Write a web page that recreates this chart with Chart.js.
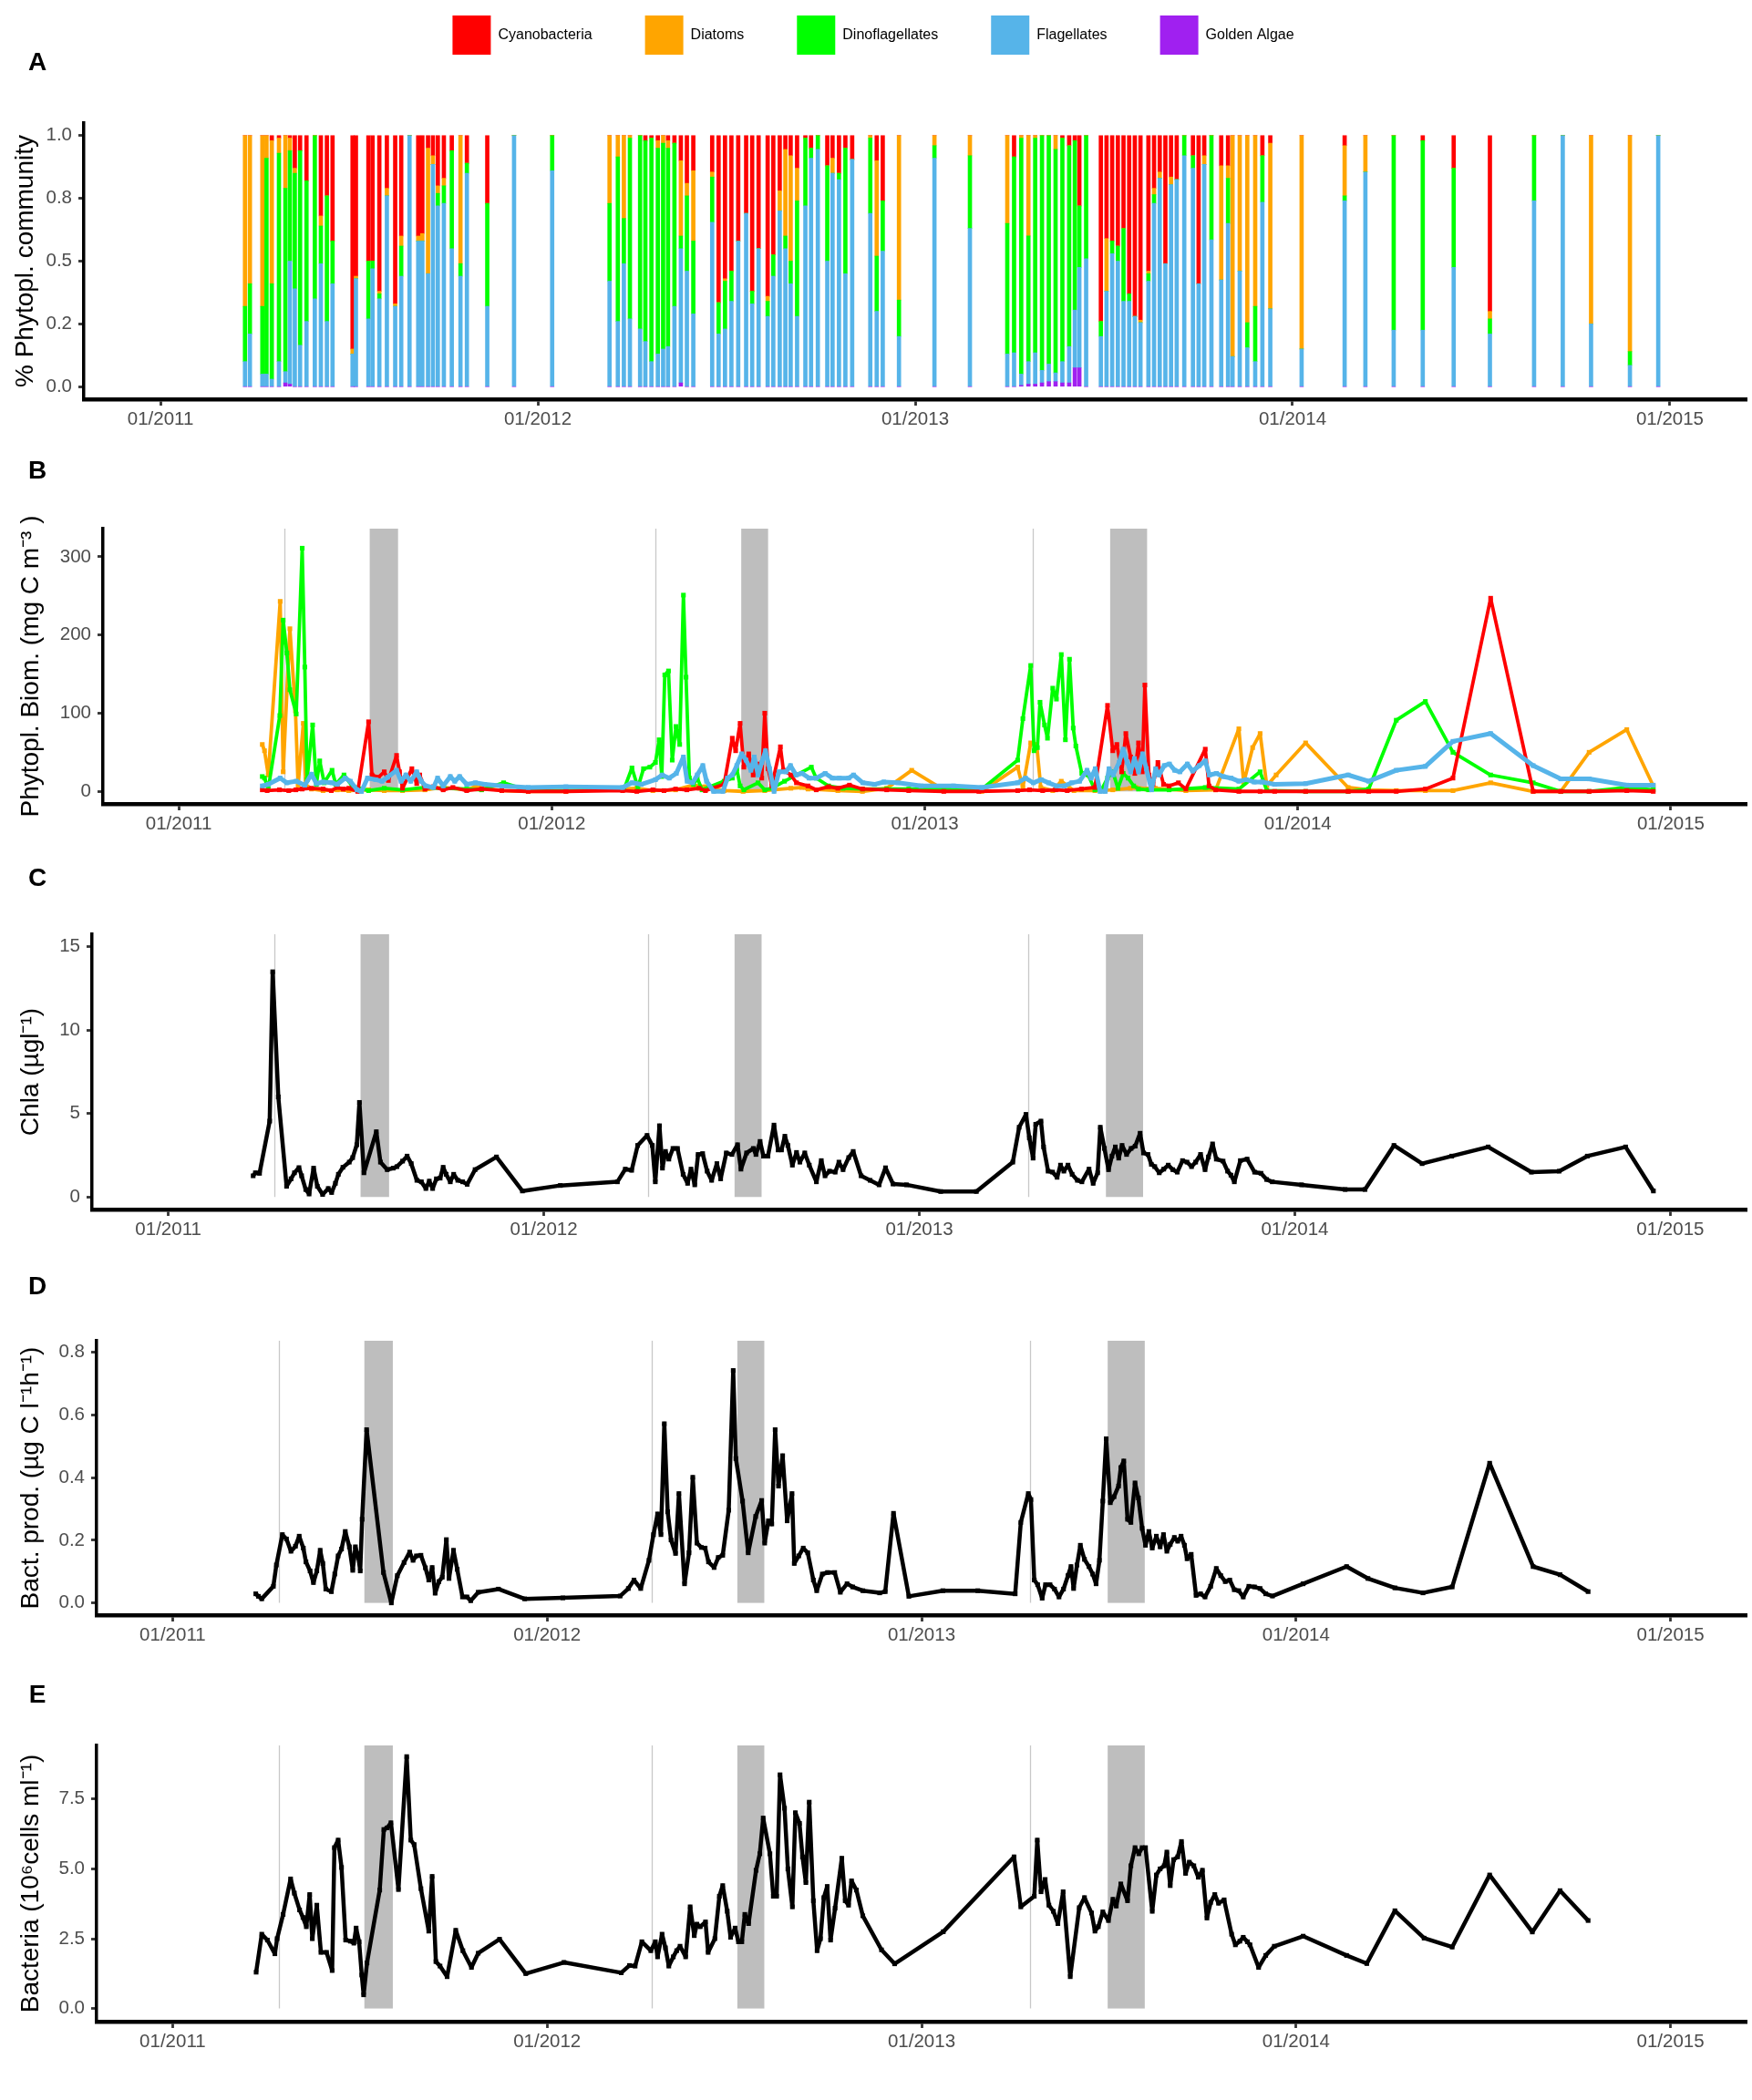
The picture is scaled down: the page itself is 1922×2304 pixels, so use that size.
<!DOCTYPE html>
<html>
<head>
<meta charset="utf-8">
<script src="https://cdn.jsdelivr.net/npm/chart.js@4.4.1/dist/chart.umd.min.js"></script>
<style>
html,body{margin:0;padding:0;background:#fff;}
#wrap{position:relative;width:1922px;height:2304px;background:#fff;overflow:hidden;}
canvas{position:absolute;left:0;}
</style>
</head>
<body>
<div id="wrap">
<canvas id="cA" width="1922" height="490" style="top:0px;width:1922px;height:490px"></canvas>
<canvas id="cB" width="1922" height="445" style="top:490px;width:1922px;height:445px"></canvas>
<canvas id="cC" width="1922" height="445" style="top:935px;width:1922px;height:445px"></canvas>
<canvas id="cD" width="1922" height="445" style="top:1380px;width:1922px;height:445px"></canvas>
<canvas id="cE" width="1922" height="479" style="top:1825px;width:1922px;height:479px"></canvas>
</div>
<script>
// ---------------- shared axis / category data ----------------
const xTickValues = [2011, 2012, 2013, 2014, 2015];
const xTickLabels = ['01/2011', '01/2012', '01/2013', '01/2014', '01/2015'];
const groupNames = ['Cyanobacteria', 'Diatoms', 'Dinoflagellates', 'Flagellates', 'Golden Algae'];
const groupColors = ['#FF0000', '#FFA500', '#00FF00', '#56B4E9', '#A020F0'];
const shadeStarts = [2011.512, 2012.508, 2013.497];
const shadeEnds = [2011.588, 2012.580, 2013.596];
const springLines = [2011.283, 2012.279, 2013.289];

// ---------------- Panel A: relative community composition ----------------
const barDates = [
 2011.224, 2011.237, 2011.270, 2011.281, 2011.295, 2011.314, 2011.331, 2011.343, 2011.356, 2011.370,
 2011.387, 2011.409, 2011.425, 2011.441, 2011.456, 2011.509, 2011.518, 2011.551, 2011.562, 2011.580,
 2011.600, 2011.622, 2011.638, 2011.660, 2011.683, 2011.694, 2011.709, 2011.722, 2011.735, 2011.751,
 2011.772, 2011.795, 2011.812, 2011.866, 2011.937, 2012.038, 2012.190, 2012.212, 2012.228, 2012.244,
 2012.271, 2012.285, 2012.301, 2012.318, 2012.332, 2012.345, 2012.362, 2012.379, 2012.395, 2012.412,
 2012.462, 2012.479, 2012.496, 2012.513, 2012.531, 2012.552, 2012.568, 2012.585, 2012.609, 2012.624,
 2012.641, 2012.656, 2012.670, 2012.687, 2012.709, 2012.724, 2012.742, 2012.767, 2012.781, 2012.798,
 2012.815, 2012.833, 2012.881, 2012.898, 2012.914, 2012.957, 2013.051, 2013.145, 2013.244, 2013.262,
 2013.281, 2013.300, 2013.318, 2013.336, 2013.354, 2013.372, 2013.390, 2013.408, 2013.423, 2013.435,
 2013.453, 2013.492, 2013.507, 2013.522, 2013.537, 2013.552, 2013.567, 2013.582, 2013.597, 2013.618,
 2013.633, 2013.648, 2013.663, 2013.678, 2013.693, 2013.713, 2013.736, 2013.751, 2013.766, 2013.785,
 2013.811, 2013.829, 2013.841, 2013.860, 2013.880, 2013.901, 2013.920, 2013.941, 2014.024, 2014.138,
 2014.193, 2014.268, 2014.345, 2014.427, 2014.523, 2014.640, 2014.716, 2014.791, 2014.894, 2014.969
];
const cyanoFrac = [
 0, 0, 0, 0, .02, .01, 0, .01, .13, .06,
 .18, 0, .32, .24, .42, .85, .56, .50, .50, .62,
 .21, .67, .40, 0, .40, .39, .05, .08, .20, .17,
 .06, 0, .11, .27, 0, 0, 0, 0, 0, 0,
 0, .02, .01, .02, 0, .02, .03, .10, .19, .14,
 .145, .665, .57, .54, .42, .31, .62, .45, .64, .475,
 .22, .055, .08, .13, .01, .05, 0, .12, .09, .15,
 .05, .095, 0, .10, .26, 0, 0, 0, 0, .085,
 0, 0, 0, 0, 0, 0, .01, .04, .02, .28,
 0, .74, .41, .42, .44, .37, .63, .72, .735, .54,
 .21, .145, .51, .165, .175, 0, .08, .59, .08, 0,
 .12, .12, 0, 0, 0, 0, .08, .03, 0, .04,
 0, 0, .02, .13, .70, 0, 0, 0, 0, 0
];
const diatomFrac = [
 .68, .59, .68, .09, .57, .06, .21, .05, .02, 0,
 0, 0, .04, 0, 0, .02, .01, 0, 0, .01,
 .03, .01, .04, 0, .02, .03, .50, .035, .03, .03,
 0, .51, 0, 0, 0, 0, .27, .085, .33, .01,
 0, 0, 0, .03, .03, .03, 0, .30, .05, .28,
 .02, 0, .01, 0, 0, 0, 0, 0, .02, 0,
 .08, .345, .42, .13, 0, 0, 0, 0, .06, 0,
 0, 0, .01, .38, 0, .655, .04, .08, .35, 0,
 .01, .40, .01, 0, 0, .055, 0, 0, 0, 0,
 0, 0, .21, 0, 0, 0, 0, 0, .01, .01,
 .025, .025, 0, .03, 0, 0, 0, 0, .035, 0,
 .455, .05, .88, .54, .745, .68, 0, .66, .85, .20,
 .145, 0, 0, 0, .03, 0, 0, .75, .86, 0
];
const dinoFrac = [
 .22, .20, .27, .86, .38, .83, .73, .44, .46, .775,
 .56, .65, .15, .50, .17, 0, 0, .23, .03, .02,
 0, 0, .12, 0, 0, 0, 0, 0, .05, .07,
 .39, .05, .04, .41, 0, .14, .31, .655, .18, .72,
 .77, .80, .89, .82, .82, .79, .65, .05, .30, .29,
 .18, .125, .19, .12, 0, 0, .05, 0, .06, .085,
 0, .05, .09, .46, .27, .04, .055, .38, 0, .025,
 .50, 0, .30, .22, .20, .145, .05, .29, .52, .78,
 .94, .50, .855, .935, .91, .89, .89, .80, .675, .245,
 .49, .06, 0, .05, .06, .29, .03, 0, 0, .03,
 .035, 0, 0, 0, 0, .08, .05, 0, 0, .415,
 0, .18, 0, 0, .10, .22, .185, 0, 0, .02,
 0, .775, .755, .395, .06, .26, 0, 0, .055, 0
];
const flagFrac = [
 .10, .21, .05, .05, .03, .10, .045, .49, .39, .165,
 .26, .35, .49, .26, .41, .13, .43, .27, .47, .35,
 .76, .32, .44, 1, .58, .58, .45, .885, .72, .73,
 .55, .44, .85, .32, 1, .86, .42, .26, .49, .27,
 .23, .18, .10, .13, .15, .16, .32, .535, .46, .29,
 .655, .21, .23, .34, .58, .69, .33, .55, .28, .44,
 .70, .55, .41, .28, .72, .91, .945, .50, .85, .825,
 .45, .905, .69, .30, .54, .20, .91, .63, .13, .135,
 .045, .09, .125, .05, .07, .035, .085, .145, .23, .40,
 .51, .20, .38, .53, .50, .34, .34, .28, .255, .42,
 .73, .83, .49, .805, .825, .92, .87, .41, .885, .585,
 .425, .65, .12, .46, .155, .10, .735, .31, .15, .74,
 .855, .225, .225, .475, .21, .74, 1, .25, .085, 1
];
const goldenFrac = [
 0, 0, 0, 0, 0, 0, .015, .01, 0, 0,
 0, 0, 0, 0, 0, 0, 0, 0, 0, 0,
 0, 0, 0, 0, 0, 0, 0, 0, 0, 0,
 0, 0, 0, 0, 0, 0, 0, 0, 0, 0,
 0, 0, 0, 0, 0, 0, 0, .015, 0, 0,
 0, 0, 0, 0, 0, 0, 0, 0, 0, 0,
 0, 0, 0, 0, 0, 0, 0, 0, 0, 0,
 0, 0, 0, 0, 0, 0, 0, 0, 0, 0,
 .005, .01, .01, .015, .02, .02, .015, .015, .075, .075,
 0, 0, 0, 0, 0, 0, 0, 0, 0, 0,
 0, 0, 0, 0, 0, 0, 0, 0, 0, 0,
 0, 0, 0, 0, 0, 0, 0, 0, 0, 0,
 0, 0, 0, 0, 0, 0, 0, 0, 0, 0
];
const yTicksA = [0, 0.25, 0.5, 0.75, 1];
const yLabelsA = ['0.0', '0.2', '0.5', '0.8', '1.0'];

// ---------------- Panel B: phytoplankton biomass per group ----------------
const cyanoDates = [
 2011.224, 2011.237, 2011.270, 2011.295, 2011.314, 2011.331, 2011.356, 2011.387, 2011.409, 2011.425,
 2011.441, 2011.456, 2011.480, 2011.509, 2011.518, 2011.535, 2011.551, 2011.562, 2011.584, 2011.592,
 2011.600, 2011.625, 2011.638, 2011.646, 2011.660, 2011.683, 2011.709, 2011.735, 2011.772, 2011.812,
 2011.866, 2011.937, 2012.038, 2012.190, 2012.228, 2012.271, 2012.301, 2012.332, 2012.362, 2012.395,
 2012.412, 2012.462, 2012.484, 2012.493, 2012.505, 2012.515, 2012.528, 2012.540, 2012.553, 2012.563,
 2012.571, 2012.580, 2012.590, 2012.613, 2012.621, 2012.641, 2012.656, 2012.687, 2012.709, 2012.742,
 2012.767, 2012.798, 2012.833, 2012.898, 2012.957, 2013.051, 2013.145, 2013.249, 2013.281, 2013.316,
 2013.351, 2013.382, 2013.420, 2013.456, 2013.490, 2013.504, 2013.515, 2013.528, 2013.539, 2013.552,
 2013.563, 2013.573, 2013.583, 2013.590, 2013.601, 2013.612, 2013.625, 2013.640, 2013.655, 2013.680,
 2013.700, 2013.752, 2013.762, 2013.780, 2013.842, 2013.899, 2013.938, 2014.021, 2014.135, 2014.190,
 2014.264, 2014.342, 2014.416, 2014.517, 2014.631, 2014.705, 2014.781, 2014.882, 2014.953
];
const cyanoVals = [
 2, 1, 2, 1, 2, 3, 4, 3, 1, 5,
 3, 4, 0, 89, 21, 18, 25, 14, 46, 25,
 4, 29, 10, 21, 3, 6, 2, 5, 1, 3,
 1, 0, 0, 1, 0, 2, 1, 3, 2, 4,
 1, 9, 68, 52, 87, 31, 48, 21, 35, 17,
 100, 29, 7, 57, 27, 21, 11, 7, 2, 6,
 4, 8, 3, 2, 1, 0, 0, 1, 2, 1,
 2, 1, 3, 5, 110, 52, 60, 25, 74, 44,
 23, 62, 25, 136, 21, 9, 37, 9, 7, 11,
 3, 54, 7, 2, 0, 0, 0, 0, 0, 0,
 0, 3, 17, 247, 0, 0, 0, 1, 0
];
const diatomDates = [
 2011.224, 2011.230, 2011.240, 2011.272, 2011.280, 2011.298, 2011.313, 2011.320, 2011.334, 2011.340,
 2011.356, 2011.387, 2011.425, 2011.456, 2011.509, 2011.551, 2011.600, 2011.660, 2011.709, 2011.772,
 2011.795, 2011.866, 2011.937, 2012.038, 2012.190, 2012.228, 2012.271, 2012.332, 2012.379, 2012.412,
 2012.462, 2012.513, 2012.571, 2012.641, 2012.670, 2012.687, 2012.767, 2012.833, 2012.898, 2012.965,
 2013.051, 2013.153, 2013.249, 2013.263, 2013.284, 2013.300, 2013.311, 2013.343, 2013.366, 2013.400,
 2013.456, 2013.504, 2013.551, 2013.566, 2013.597, 2013.618, 2013.700, 2013.780, 2013.842, 2013.855,
 2013.879, 2013.899, 2013.917, 2013.942, 2014.021, 2014.135, 2014.190, 2014.264, 2014.342, 2014.416,
 2014.517, 2014.631, 2014.705, 2014.781, 2014.882, 2014.953
];
const diatomVals = [
 60, 52, 21, 243, 25, 208, 103, 7, 87, 9,
 3, 1, 2, 1, 2, 1, 1, 2, 5, 2,
 6, 1, 0, 0, 3, 4, 1, 2, 8, 6,
 1, 0, 1, 4, 5, 3, 1, 0, 4, 27,
 2, 0, 31, 5, 62, 60, 5, 1, 13, 1,
 1, 2, 4, 5, 3, 4, 1, 2, 80, 11,
 56, 74, 7, 21, 62, 5, 2, 1, 1, 1,
 11, 0, 0, 50, 79, 7
];
const dinoDates = [
 2011.224, 2011.230, 2011.240, 2011.271, 2011.280, 2011.290, 2011.298, 2011.315, 2011.331, 2011.338,
 2011.344, 2011.359, 2011.369, 2011.378, 2011.390, 2011.411, 2011.421, 2011.443, 2011.465, 2011.509,
 2011.551, 2011.600, 2011.660, 2011.709, 2011.772, 2011.812, 2011.871, 2011.937, 2012.038, 2012.193,
 2012.215, 2012.231, 2012.246, 2012.263, 2012.278, 2012.288, 2012.295, 2012.303, 2012.313, 2012.323,
 2012.333, 2012.343, 2012.353, 2012.360, 2012.369, 2012.380, 2012.390, 2012.403, 2012.462, 2012.484,
 2012.496, 2012.505, 2012.515, 2012.553, 2012.571, 2012.590, 2012.624, 2012.696, 2012.709, 2012.742,
 2012.781, 2012.833, 2012.898, 2012.957, 2013.077, 2013.153, 2013.249, 2013.263, 2013.284, 2013.293,
 2013.302, 2013.309, 2013.321, 2013.329, 2013.343, 2013.353, 2013.366, 2013.377, 2013.388, 2013.398,
 2013.405, 2013.421, 2013.438, 2013.456, 2013.475, 2013.490, 2013.504, 2013.518, 2013.532, 2013.545,
 2013.560, 2013.573, 2013.600, 2013.655, 2013.752, 2013.842, 2013.899, 2013.917, 2014.021, 2014.135,
 2014.190, 2014.264, 2014.342, 2014.416, 2014.517, 2014.631, 2014.705, 2014.781, 2014.882, 2014.953
];
const dinoVals = [
 19, 17, 3, 97, 219, 177, 130, 99, 311, 159,
 15, 85, 9, 39, 11, 27, 9, 21, 7, 1,
 4, 2, 5, 4, 3, 2, 11, 1, 1, 2,
 30, 5, 29, 31, 37, 66, 19, 149, 154, 40,
 83, 60, 251, 146, 17, 9, 17, 2, 13, 17,
 29, 7, 2, 11, 2, 4, 13, 31, 17, 7,
 4, 3, 3, 3, 3, 3, 40, 93, 161, 52,
 56, 114, 85, 68, 132, 118, 175, 66, 169, 81,
 58, 23, 21, 2, 3, 17, 25, 4, 23, 17,
 7, 3, 2, 2, 5, 3, 25, 1, 0, 0,
 3, 91, 115, 50, 21, 11, 0, 0, 5, 2
];
const flagDates = [
 2011.224, 2011.240, 2011.272, 2011.290, 2011.315, 2011.338, 2011.356, 2011.369, 2011.387, 2011.411,
 2011.425, 2011.446, 2011.460, 2011.478, 2011.490, 2011.506, 2011.528, 2011.545, 2011.560, 2011.584,
 2011.596, 2011.609, 2011.622, 2011.638, 2011.650, 2011.662, 2011.683, 2011.694, 2011.709, 2011.728,
 2011.740, 2011.753, 2011.772, 2011.795, 2011.820, 2011.866, 2011.937, 2012.038, 2012.190, 2012.215,
 2012.240, 2012.278, 2012.296, 2012.315, 2012.334, 2012.353, 2012.363, 2012.378, 2012.390, 2012.405,
 2012.415, 2012.434, 2012.459, 2012.471, 2012.484, 2012.496, 2012.509, 2012.521, 2012.534, 2012.543,
 2012.553, 2012.563, 2012.573, 2012.584, 2012.596, 2012.609, 2012.628, 2012.640, 2012.655, 2012.671,
 2012.690, 2012.709, 2012.733, 2012.752, 2012.771, 2012.796, 2012.809, 2012.834, 2012.865, 2012.890,
 2012.928, 2012.990, 2013.077, 2013.153, 2013.249, 2013.270, 2013.291, 2013.312, 2013.332, 2013.353,
 2013.374, 2013.394, 2013.415, 2013.435, 2013.446, 2013.457, 2013.470, 2013.484, 2013.494, 2013.505,
 2013.521, 2013.532, 2013.543, 2013.552, 2013.562, 2013.573, 2013.584, 2013.594, 2013.608, 2013.619,
 2013.628, 2013.642, 2013.656, 2013.670, 2013.684, 2013.704, 2013.718, 2013.736, 2013.752, 2013.763,
 2013.782, 2013.800, 2013.821, 2013.842, 2013.862, 2013.883, 2013.904, 2013.938, 2014.021, 2014.135,
 2014.190, 2014.264, 2014.342, 2014.416, 2014.517, 2014.631, 2014.705, 2014.781, 2014.882, 2014.953
];
const flagVals = [
 7, 9, 17, 11, 13, 8, 22, 10, 12, 11,
 9, 17, 13, 2, 0, 17, 15, 13, 18, 27,
 13, 21, 13, 25, 13, 7, 5, 17, 7, 19,
 13, 19, 9, 11, 9, 7, 5, 6, 5, 11,
 9, 15, 21, 17, 23, 44, 13, 11, 21, 33,
 13, 0, 0, 17, 21, 33, 48, 40, 27, 44,
 21, 37, 52, 29, 0, 25, 25, 33, 21, 23,
 17, 17, 23, 17, 17, 17, 21, 11, 9, 12,
 11, 7, 7, 5, 11, 17, 11, 15, 11, 7,
 7, 11, 13, 27, 17, 29, 0, 0, 29, 21,
 37, 54, 37, 25, 42, 25, 48, 29, 2, 29,
 21, 33, 35, 27, 25, 35, 26, 33, 39, 21,
 23, 19, 17, 13, 15, 12, 12, 9, 10, 21,
 13, 27, 32, 64, 74, 33, 16, 16, 8, 8
];
const yTicksB = [0, 100, 200, 300];
const yLabelsB = ['0', '100', '200', '300'];

// ---------------- Panel C: chlorophyll a ----------------
const chlDates = [
 2011.226, 2011.232, 2011.243, 2011.270, 2011.278, 2011.293, 2011.315, 2011.327, 2011.336, 2011.348,
 2011.355, 2011.366, 2011.375, 2011.387, 2011.397, 2011.411, 2011.426, 2011.435, 2011.445, 2011.453,
 2011.465, 2011.482, 2011.491, 2011.502, 2011.509, 2011.521, 2011.554, 2011.565, 2011.583, 2011.599,
 2011.609, 2011.624, 2011.636, 2011.647, 2011.662, 2011.674, 2011.686, 2011.695, 2011.704, 2011.714,
 2011.724, 2011.732, 2011.740, 2011.751, 2011.760, 2011.771, 2011.784, 2011.796, 2011.817, 2011.874,
 2011.943, 2012.044, 2012.196, 2012.217, 2012.234, 2012.250, 2012.275, 2012.289, 2012.297, 2012.308,
 2012.316, 2012.324, 2012.333, 2012.344, 2012.356, 2012.371, 2012.383, 2012.392, 2012.402, 2012.411,
 2012.423, 2012.435, 2012.447, 2012.461, 2012.471, 2012.486, 2012.501, 2012.516, 2012.525, 2012.540,
 2012.558, 2012.565, 2012.576, 2012.585, 2012.597, 2012.613, 2012.624, 2012.633, 2012.642, 2012.650,
 2012.662, 2012.673, 2012.682, 2012.695, 2012.707, 2012.726, 2012.739, 2012.749, 2012.761, 2012.776,
 2012.786, 2012.797, 2012.812, 2012.824, 2012.845, 2012.869, 2012.893, 2012.910, 2012.930, 2012.966,
 2013.057, 2013.152, 2013.249, 2013.266, 2013.284, 2013.293, 2013.303, 2013.310, 2013.324, 2013.331,
 2013.343, 2013.355, 2013.367, 2013.376, 2013.385, 2013.396, 2013.407, 2013.421, 2013.433, 2013.452,
 2013.463, 2013.475, 2013.482, 2013.493, 2013.504, 2013.513, 2013.522, 2013.531, 2013.540, 2013.552,
 2013.564, 2013.575, 2013.588, 2013.597, 2013.609, 2013.618, 2013.627, 2013.639, 2013.651, 2013.663,
 2013.675, 2013.687, 2013.701, 2013.713, 2013.725, 2013.736, 2013.749, 2013.761, 2013.770, 2013.781,
 2013.791, 2013.809, 2013.821, 2013.830, 2013.839, 2013.855, 2013.873, 2013.893, 2013.910, 2013.925,
 2013.940, 2014.018, 2014.134, 2014.187, 2014.264, 2014.339, 2014.418, 2014.515, 2014.630, 2014.704,
 2014.779, 2014.881, 2014.955
];
const chlVals = [
 1.27, 1.45, 1.42, 4.55, 13.5, 6.0, 0.64, 1.09, 1.45, 1.76,
 1.27, 0.45, 0.18, 1.73, 0.64, 0.15, 0.51, 0.27, 0.82, 1.36,
 1.78, 2.09, 2.36, 3.13, 5.67, 1.45, 3.91, 2.09, 1.64, 1.73,
 1.82, 2.15, 2.45, 2.0, 1.0, 0.91, 0.51, 0.95, 0.51, 1.09,
 1.13, 1.78, 1.36, 0.91, 1.36, 1.0, 0.91, 0.76, 1.64, 2.4,
 0.36, 0.69, 0.91, 1.67, 1.6, 3.09, 3.69, 3.09, 0.91, 4.27,
 1.73, 2.73, 2.27, 2.91, 2.91, 1.36, 0.82, 1.67, 0.73, 2.55,
 2.6, 1.55, 1.0, 2.0, 1.09, 2.64, 2.55, 3.13, 1.67, 2.64,
 2.91, 2.55, 3.33, 2.45, 2.45, 4.31, 2.82, 2.82, 3.64, 3.09,
 1.91, 2.67, 2.09, 2.64, 1.91, 0.91, 2.18, 1.27, 1.55, 1.49,
 2.09, 1.64, 2.36, 2.73, 1.27, 1.0, 0.73, 1.75, 0.78, 0.73,
 0.33, 0.33, 2.09, 4.18, 4.95, 3.55, 2.33, 4.36, 4.55, 3.0,
 1.55, 1.49, 1.18, 1.91, 1.55, 1.91, 1.36, 1.0, 0.91, 1.67,
 0.82, 1.45, 4.18, 2.91, 1.64, 2.45, 3.0, 2.33, 3.09, 2.55,
 2.91, 3.05, 3.82, 2.64, 2.55, 1.96, 1.82, 1.45, 1.67, 1.91,
 1.64, 1.49, 2.18, 2.09, 1.82, 2.09, 2.55, 1.64, 2.4, 3.18,
 2.27, 2.15, 1.55, 1.31, 0.91, 2.18, 2.27, 1.49, 1.42, 1.05,
 0.91, 0.73, 0.45, 0.45, 3.09, 2.0, 2.45, 3.0, 1.49, 1.55,
 2.45, 3.0, 0.36
];
const yTicksC = [0, 5, 10, 15];
const yLabelsC = ['0', '5', '10', '15'];

// ---------------- Panel D: bacterial production ----------------
const bpDates = [
 2011.222, 2011.229, 2011.238, 2011.269, 2011.277, 2011.293, 2011.304, 2011.316, 2011.328, 2011.338,
 2011.349, 2011.356, 2011.367, 2011.376, 2011.385, 2011.394, 2011.401, 2011.409, 2011.424, 2011.433,
 2011.442, 2011.451, 2011.461, 2011.472, 2011.481, 2011.488, 2011.496, 2011.501, 2011.506, 2011.518,
 2011.563, 2011.584, 2011.600, 2011.618, 2011.633, 2011.642, 2011.651, 2011.663, 2011.675, 2011.684,
 2011.693, 2011.701, 2011.711, 2011.720, 2011.731, 2011.738, 2011.750, 2011.760, 2011.774, 2011.786,
 2011.796, 2011.816, 2011.870, 2011.940, 2012.042, 2012.195, 2012.217, 2012.232, 2012.250, 2012.272,
 2012.284, 2012.295, 2012.304, 2012.313, 2012.322, 2012.331, 2012.343, 2012.352, 2012.367, 2012.379,
 2012.389, 2012.400, 2012.412, 2012.422, 2012.431, 2012.446, 2012.457, 2012.469, 2012.485, 2012.497,
 2012.504, 2012.522, 2012.537, 2012.557, 2012.573, 2012.581, 2012.591, 2012.600, 2012.609, 2012.618,
 2012.629, 2012.641, 2012.654, 2012.660, 2012.672, 2012.684, 2012.696, 2012.711, 2012.720, 2012.735,
 2012.749, 2012.768, 2012.783, 2012.801, 2012.816, 2012.843, 2012.888, 2012.903, 2012.925, 2012.966,
 2013.057, 2013.150, 2013.250, 2013.265, 2013.285, 2013.292, 2013.301, 2013.310, 2013.322, 2013.331,
 2013.343, 2013.355, 2013.367, 2013.379, 2013.391, 2013.399, 2013.406, 2013.415, 2013.424, 2013.435,
 2013.447, 2013.457, 2013.466, 2013.475, 2013.484, 2013.493, 2013.504, 2013.514, 2013.526, 2013.532,
 2013.540, 2013.550, 2013.559, 2013.570, 2013.579, 2013.589, 2013.598, 2013.607, 2013.616, 2013.627,
 2013.637, 2013.646, 2013.655, 2013.664, 2013.675, 2013.684, 2013.693, 2013.702, 2013.709, 2013.720,
 2013.733, 2013.745, 2013.757, 2013.772, 2013.787, 2013.799, 2013.811, 2013.823, 2013.835, 2013.847,
 2013.859, 2013.874, 2013.889, 2013.904, 2013.919, 2013.937, 2014.019, 2014.135, 2014.192, 2014.264,
 2014.339, 2014.417, 2014.517, 2014.633, 2014.705, 2014.780
];
const bpVals = [
 0.029, 0.021, 0.013, 0.053, 0.121, 0.218, 0.204, 0.165, 0.181, 0.213,
 0.175, 0.131, 0.102, 0.065, 0.102, 0.168, 0.126, 0.044, 0.036, 0.092,
 0.150, 0.172, 0.228, 0.179, 0.104, 0.179, 0.145, 0.102, 0.267, 0.553,
 0.097, 0.0, 0.087, 0.129, 0.162, 0.136, 0.150, 0.152, 0.112, 0.073,
 0.113, 0.031, 0.068, 0.082, 0.202, 0.078, 0.168, 0.107, 0.019, 0.019,
 0.007, 0.034, 0.044, 0.013, 0.016, 0.022, 0.046, 0.073, 0.046, 0.136,
 0.218, 0.284, 0.218, 0.572, 0.291, 0.201, 0.158, 0.349, 0.061, 0.160,
 0.401, 0.191, 0.177, 0.175, 0.131, 0.113, 0.145, 0.152, 0.296, 0.742,
 0.461, 0.325, 0.160, 0.276, 0.327, 0.191, 0.262, 0.252, 0.553, 0.373,
 0.470, 0.262, 0.349, 0.126, 0.150, 0.175, 0.160, 0.073, 0.039, 0.092,
 0.097, 0.097, 0.034, 0.061, 0.051, 0.039, 0.032, 0.036, 0.286, 0.021,
 0.039, 0.039, 0.029, 0.257, 0.349, 0.330, 0.073, 0.058, 0.015, 0.058,
 0.058, 0.044, 0.019, 0.044, 0.087, 0.116, 0.046, 0.121, 0.184, 0.139,
 0.116, 0.092, 0.061, 0.136, 0.325, 0.524, 0.320, 0.339, 0.373, 0.432,
 0.453, 0.267, 0.257, 0.383, 0.335, 0.238, 0.184, 0.228, 0.175, 0.213,
 0.179, 0.218, 0.165, 0.187, 0.209, 0.197, 0.213, 0.184, 0.141, 0.155,
 0.024, 0.029, 0.019, 0.053, 0.110, 0.087, 0.068, 0.073, 0.042, 0.039,
 0.019, 0.053, 0.051, 0.046, 0.029, 0.022, 0.061, 0.116, 0.078, 0.048,
 0.032, 0.051, 0.446, 0.116, 0.090, 0.036
];
const yTicksD = [0, 0.2, 0.4, 0.6, 0.8];
const yLabelsD = ['0.0', '0.2', '0.4', '0.6', '0.8'];

// ---------------- Panel E: bacterial abundance ----------------
const bacDates = [
 2011.223, 2011.238, 2011.253, 2011.273, 2011.279, 2011.295, 2011.315, 2011.325, 2011.339, 2011.348,
 2011.357, 2011.366, 2011.373, 2011.385, 2011.396, 2011.411, 2011.426, 2011.432, 2011.442, 2011.451,
 2011.462, 2011.475, 2011.484, 2011.490, 2011.498, 2011.505, 2011.510, 2011.519, 2011.553, 2011.564,
 2011.573, 2011.583, 2011.603, 2011.625, 2011.636, 2011.645, 2011.663, 2011.684, 2011.693, 2011.703,
 2011.714, 2011.733, 2011.756, 2011.775, 2011.798, 2011.816, 2011.873, 2011.943, 2012.045, 2012.198,
 2012.220, 2012.235, 2012.253, 2012.277, 2012.289, 2012.295, 2012.307, 2012.316, 2012.325, 2012.337,
 2012.346, 2012.355, 2012.370, 2012.382, 2012.393, 2012.400, 2012.409, 2012.423, 2012.430, 2012.448,
 2012.460, 2012.469, 2012.481, 2012.490, 2012.502, 2012.511, 2012.520, 2012.528, 2012.538, 2012.558,
 2012.568, 2012.577, 2012.595, 2012.604, 2012.613, 2012.622, 2012.634, 2012.643, 2012.655, 2012.663,
 2012.674, 2012.682, 2012.691, 2012.700, 2012.711, 2012.721, 2012.730, 2012.739, 2012.748, 2012.757,
 2012.769, 2012.787, 2012.796, 2012.805, 2012.813, 2012.826, 2012.843, 2012.893, 2012.928, 2013.058,
 2013.247, 2013.265, 2013.301, 2013.309, 2013.319, 2013.330, 2013.340, 2013.352, 2013.364, 2013.378,
 2013.397, 2013.421, 2013.435, 2013.454, 2013.463, 2013.472, 2013.484, 2013.499, 2013.511, 2013.520,
 2013.532, 2013.550, 2013.559, 2013.570, 2013.580, 2013.589, 2013.598, 2013.616, 2013.627, 2013.637,
 2013.648, 2013.655, 2013.664, 2013.673, 2013.684, 2013.694, 2013.705, 2013.715, 2013.727, 2013.739,
 2013.750, 2013.762, 2013.772, 2013.783, 2013.793, 2013.808, 2013.828, 2013.838, 2013.850, 2013.859,
 2013.870, 2013.877, 2013.900, 2013.919, 2013.942, 2014.019, 2014.135, 2014.189, 2014.264, 2014.342,
 2014.417, 2014.517, 2014.631, 2014.705, 2014.780
];
const bacVals = [
 1.30, 2.66, 2.45, 1.96, 2.50, 3.37, 4.64, 4.13, 3.53, 3.26,
 2.93, 4.08, 2.50, 3.70, 2.01, 2.01, 1.36, 5.76, 6.03, 5.05,
 2.45, 2.41, 2.34, 2.88, 2.39, 1.20, 0.49, 1.63, 4.24, 6.41,
 6.47, 6.65, 4.26, 9.02, 6.03, 5.87, 4.29, 2.77, 4.73, 1.68,
 1.52, 1.14, 2.80, 2.07, 1.47, 1.98, 2.48, 1.25, 1.65, 1.28,
 1.54, 1.52, 2.39, 2.07, 2.39, 1.85, 2.66, 2.17, 1.52, 1.85,
 2.07, 2.23, 1.85, 3.64, 2.61, 3.02, 2.93, 3.10, 2.01, 2.50,
 4.02, 4.40, 3.48, 2.55, 2.88, 2.39, 2.39, 3.37, 3.04, 4.95,
 5.54, 6.82, 5.54, 4.02, 4.02, 8.37, 7.17, 5.00, 3.64, 7.01,
 6.63, 5.43, 4.51, 7.39, 3.86, 2.07, 2.50, 3.97, 4.37, 2.45,
 3.59, 5.38, 3.86, 3.70, 4.57, 4.24, 3.32, 2.10, 1.60, 2.75,
 5.43, 3.64, 4.02, 6.03, 4.18, 4.62, 3.70, 3.48, 3.04, 4.18,
 1.14, 3.61, 3.97, 3.42, 2.77, 2.93, 3.46, 3.15, 3.91, 3.67,
 4.46, 3.86, 5.11, 5.76, 5.54, 5.76, 5.76, 3.48, 4.78, 5.00,
 5.11, 5.60, 4.40, 5.33, 5.43, 5.98, 4.84, 5.24, 5.11, 4.70,
 4.95, 3.24, 3.80, 4.08, 3.77, 3.89, 2.66, 2.28, 2.41, 2.55,
 2.39, 2.28, 1.47, 1.90, 2.23, 2.59, 1.90, 1.61, 3.50, 2.52,
 2.20, 4.78, 2.74, 4.22, 3.15
];
const yTicksE = [0, 2.5, 5, 7.5];
const yLabelsE = ['0.0', '2.5', '5.0', '7.5'];

// ---------------- rendering helpers ----------------
const FONT = '"Liberation Sans", Arial, Helvetica, sans-serif';
const X_MIN = 2010.797, X_MAX = 2015.203;
Chart.defaults.font.family = FONT;
Chart.defaults.animation = false;

function pts(xs, ys) { return xs.map((x, i) => ({ x: x, y: ys[i] })); }

const panelLabelPlugin = {
  id: 'panelLabel',
  afterDraw(chart, args, opts) {
    if (!opts || !opts.text) return;
    const c = chart.ctx;
    c.save();
    c.font = 'bold 28px ' + FONT;
    c.fillStyle = '#000';
    c.textAlign = 'center';
    c.textBaseline = 'middle';
    c.fillText(opts.text, opts.x, opts.y);
    c.restore();
  }
};
const shadePlugin = {
  id: 'shade',
  beforeDatasetsDraw(chart, args, opts) {
    if (!opts || !opts.starts) return;
    const c = chart.ctx, a = chart.chartArea, xs = chart.scales.x, ys = chart.scales.y;
    c.save();
    c.beginPath(); c.rect(a.left, a.top, a.right - a.left, a.bottom - a.top); c.clip();
    const y0 = ys.getPixelForValue(0);
    c.fillStyle = '#BEBEBE';
    opts.starts.forEach((s, i) => {
      const x1 = xs.getPixelForValue(s), x2 = xs.getPixelForValue(opts.ends[i]);
      c.fillRect(x1, a.top, x2 - x1, y0 - a.top);
    });
    c.strokeStyle = '#C8C8C8';
    c.lineWidth = 1.3;
    opts.lines.forEach(v => {
      const px = Math.round(xs.getPixelForValue(v)) + 0.5;
      c.beginPath(); c.moveTo(px, y0); c.lineTo(px, a.top); c.stroke();
    });
    c.restore();
  }
};
Chart.register(panelLabelPlugin, shadePlugin);

function xAxis() {
  return {
    type: 'linear', min: X_MIN, max: X_MAX, offset: false, bounds: 'data',
    afterBuildTicks: s => { s.ticks = xTickValues.map(v => ({ value: v })); },
    afterFit: s => { s.height = 45; },
    ticks: { callback: (v, i) => xTickLabels[i], color: '#4D4D4D', font: { family: FONT, size: 20.5 },
             padding: 3, maxRotation: 0, autoSkip: false },
    grid: { display: true, drawOnChartArea: false, drawTicks: true, tickLength: 7, tickWidth: 2.8,
            tickColor: '#333333', offset: false },
    border: { display: true, color: '#000000', width: 4.5 }
  };
}
function yAxis(cfg) {
  return {
    type: 'linear', min: cfg.min, max: cfg.max, stacked: !!cfg.stacked, bounds: 'data',
    afterBuildTicks: s => { s.ticks = cfg.ticks.map(v => ({ value: v })); },
    afterFit: s => { s.width = cfg.width; },
    ticks: { callback: (v, i) => cfg.labels[i], color: '#4D4D4D', font: { family: FONT, size: 20.5 },
             padding: 7, autoSkip: false },
    grid: { display: true, drawOnChartArea: false, drawTicks: true, tickLength: 6, tickWidth: 2.8,
            tickColor: '#333333' },
    border: { display: true, color: '#000000', width: 3.5 },
    title: { display: true, text: cfg.title, color: '#000000', font: { family: FONT, size: 28 },
             padding: { top: cfg.titlePad, bottom: 0 } }
  };
}
function lineDS(label, xs, ys, color, width) {
  return { label: label, data: pts(xs, ys), borderColor: color, backgroundColor: color,
           pointBackgroundColor: color, pointBorderColor: color, borderWidth: width,
           pointStyle: 'rect', pointRadius: 3.6, pointBorderWidth: 0, tension: 0, fill: false,
           borderJoinStyle: 'round' };
}
function baseOptions(padding, label) {
  return {
    responsive: false, maintainAspectRatio: false, devicePixelRatio: 1, animation: false, events: [],
    layout: { padding: padding },
    plugins: { legend: { display: false }, tooltip: { enabled: false }, panelLabel: label }
  };
}

// ---------------- Panel A ----------------
(function () {
  const fracs = [cyanoFrac, diatomFrac, dinoFrac, flagFrac, goldenFrac];
  const order = [4, 3, 2, 1, 0]; // bottom of stack first: Golden Algae ... Cyanobacteria
  const datasets = order.map(g => ({
    label: groupNames[g], data: pts(barDates, fracs[g]), backgroundColor: groupColors[g],
    borderWidth: 0, barThickness: 4, stack: 'community'
  }));
  const opts = baseOptions({ left: 0, right: 6, top: -41, bottom: 7 }, { text: 'A', x: 41, y: 69 });
  opts.plugins.legend = {
    display: true, position: 'top', reverse: true,
    labels: { boxWidth: 42, boxHeight: 43, padding: 58, color: '#000000', font: { family: FONT, size: 16 } }
  };
  opts.scales = {
    x: Object.assign(xAxis(), { stacked: true }),
    y: yAxis({ min: -0.05, max: 1.05, ticks: yTicksA, labels: yLabelsA, width: 92,
               title: '% Phytopl. community', titlePad: 11, stacked: true })
  };
  const legendSpacer = {
    id: 'legendSpacer',
    beforeLayout(chart) {
      const lg = chart.legend;
      if (lg && !lg._fitPatched) {
        const orig = lg.fit.bind(lg);
        lg.fit = function () { orig(); this.height = 176; };
        lg._fitPatched = true;
      }
    }
  };
  new Chart(document.getElementById('cA'), { type: 'bar', data: { datasets: datasets }, options: opts, plugins: [legendSpacer] });
})();

// ---------------- Panel B ----------------
(function () {
  const opts = baseOptions({ left: 0, right: 6, top: 90, bottom: 8 }, { text: 'B', x: 41, y: 27 });
  opts.plugins.shade = { starts: shadeStarts, ends: shadeEnds, lines: springLines };
  opts.scales = {
    x: xAxis(),
    y: yAxis({ min: -16, max: 336, ticks: yTicksB, labels: yLabelsB, width: 113,
               title: 'Phytopl. Biom. (mg C m\u207B\u00B3 )', titlePad: 17 })
  };
  new Chart(document.getElementById('cB'), {
    type: 'line',
    data: { datasets: [
      lineDS(groupNames[3], flagDates, flagVals, groupColors[3], 5),
      lineDS(groupNames[0], cyanoDates, cyanoVals, groupColors[0], 3.8),
      lineDS(groupNames[2], dinoDates, dinoVals, groupColors[2], 3.8),
      lineDS(groupNames[1], diatomDates, diatomVals, groupColors[1], 3.8)
    ] },
    options: opts
  });
})();

// ---------------- Panels C, D, E ----------------
function blackPanel(id, label, labelY, padTop, padBottom, yCfg, name, xs, ys) {
  const opts = baseOptions({ left: 0, right: 6, top: padTop, bottom: padBottom }, { text: label, x: 41, y: labelY });
  opts.plugins.shade = { starts: shadeStarts, ends: shadeEnds, lines: springLines };
  opts.scales = { x: xAxis(), y: yAxis(yCfg) };
  new Chart(document.getElementById(id), {
    type: 'line',
    data: { datasets: [lineDS(name, xs, ys, '#000000', 4.5)] },
    options: opts
  });
}
blackPanel('cC', 'C', 29, 90, 8,
  { min: -0.75, max: 15.75, ticks: yTicksC, labels: yLabelsC, width: 101, title: 'Chla (\u00B5gl\u207B\u00B9)', titlePad: 17 },
  'Chla', chlDates, chlVals);
blackPanel('cD', 'D', 32, 91, 8,
  { min: -0.039, max: 0.837, ticks: yTicksD, labels: yLabelsD, width: 106, title: 'Bact. prod. (\u00B5g C l\u207B\u00B9h\u207B\u00B9)', titlePad: 17 },
  'Bact. prod.', bpDates, bpVals);
blackPanel('cE', 'E', 35, 90, 41,
  { min: -0.47, max: 9.42, ticks: yTicksE, labels: yLabelsE, width: 106, title: 'Bacteria (10\u2076cells ml\u207B\u00B9)', titlePad: 17 },
  'Bacteria', bacDates, bacVals);
</script>
</body>
</html>
